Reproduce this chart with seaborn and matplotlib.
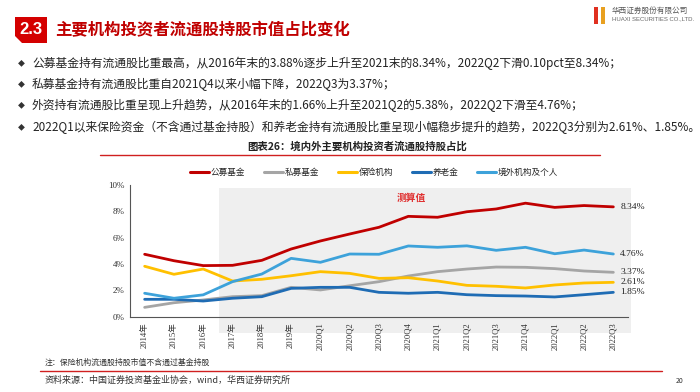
import numpy as np
import pandas as pd
import seaborn as sns
import matplotlib.pyplot as plt
from matplotlib.patches import Polygon, Rectangle
from matplotlib.lines import Line2D

# 数据
periods = ['2014年', '2015年', '2016年', '2017年', '2018年', '2019年',
           '2020Q1', '2020Q2', '2020Q3', '2020Q4', '2021Q1', '2021Q2',
           '2021Q3', '2021Q4', '2022Q1', '2022Q2', '2022Q3']
public_fund = [4.74, 4.25, 3.88, 3.90, 4.28, 5.14, 5.75, 6.28, 6.79, 7.62,
               7.55, 7.97, 8.18, 8.62, 8.30, 8.44, 8.34]
private_fund = [0.71, 1.06, 1.27, 1.52, 1.60, 2.23, 2.03, 2.35, 2.66, 3.09,
                3.42, 3.62, 3.77, 3.75, 3.65, 3.47, 3.37]
insurance = [3.83, 3.22, 3.62, 2.71, 2.84, 3.11, 3.42, 3.29, 2.91, 2.96,
             2.71, 2.38, 2.31, 2.18, 2.41, 2.56, 2.61]
pension = [1.32, 1.32, 1.19, 1.40, 1.52, 2.15, 2.23, 2.23, 1.85, 1.78,
           1.85, 1.67, 1.60, 1.57, 1.50, 1.67, 1.85]
foreign = [1.78, 1.40, 1.66, 2.66, 3.24, 4.43, 4.13, 4.76, 4.74, 5.37,
           5.27, 5.38, 5.04, 5.27, 4.78, 5.06, 4.76]

series_names = ['公募基金', '私募基金', '保险机构', '养老金', '境外机构及个人']
series_values = [public_fund, private_fund, insurance, pension, foreign]
colors = ['#C00000', '#A5A5A5', '#FFC000', '#1F6CB4', '#3DA2DA']
end_labels = ['8.34%', '3.37%', '2.61%', '1.85%', '4.76%']

df = pd.DataFrame({
    'pos': np.tile(np.arange(len(periods)), len(series_names)),
    'value': np.concatenate(series_values),
    'series': np.repeat(series_names, len(periods)),
})

sns.set_theme(style='white')
cjk = ['Noto Sans CJK SC', 'DejaVu Sans']
serif = ['Liberation Serif', 'Noto Sans CJK SC']
plt.rcParams['font.family'] = cjk

fig = plt.figure(figsize=(7, 3.92), dpi=100)
W, H = 700, 392


def fx(x):
    return x / W


def fy(y):
    return 1 - y / H


# 页眉
fig.patches.append(Polygon([(fx(15), fy(17)), (fx(47), fy(17)), (fx(47), fy(43)),
                            (fx(22), fy(43)), (fx(15), fy(36))],
                           closed=True, transform=fig.transFigure,
                           facecolor='#D40000', edgecolor='none'))
fig.text(fx(31), fy(29.5), '2.3', color='white', fontsize=12, fontweight='bold',
         ha='center', va='center', family=['Liberation Sans'])
fig.text(fx(55), fy(30.5), '主要机构投资者流通股持股市值占比变化', color='#C00000',
         fontsize=11.8, fontweight='bold', ha='left', va='center')

# logo
fig.patches.append(Rectangle((fx(594), fy(24)), fx(4), 17 / H, transform=fig.transFigure,
                             facecolor='#E03020', edgecolor='none'))
fig.patches.append(Rectangle((fx(601), fy(24)), fx(4), 17 / H, transform=fig.transFigure,
                             facecolor='#E8A020', edgecolor='none'))
fig.text(fx(612), fy(11), '华西证券股份有限公司', fontsize=5.5, color='#555555',
         ha='left', va='center', family=['Noto Sans CJK SC'])
fig.text(fx(612), fy(19), 'HUAXI SECURITIES CO.,LTD.', fontsize=4.3, color='#666666',
         ha='left', va='center', family=['Liberation Sans'])

bullets = [
    '公募基金持有流通股比重最高，从2016年末的3.88%逐步上升至2021末的8.34%，2022Q2下滑0.10pct至8.34%；',
    '私募基金持有流通股比重自2021Q4以来小幅下降，2022Q3为3.37%；',
    '外资持有流通股比重呈现上升趋势，从2016年末的1.66%上升至2021Q2的5.38%，2022Q2下滑至4.76%；',
    '2022Q1以来保险资金（不含通过基金持股）和养老金持有流通股比重呈现小幅稳步提升的趋势，2022Q3分别为2.61%、1.85%。',
]
for i, txt in enumerate(bullets):
    yy = 63 + i * 21.3
    fig.text(fx(21.5), fy(yy), '◆', fontsize=5, color='#333333', ha='center', va='center')
    fig.text(fx(32), fy(yy), txt, fontsize=8.5, color='#222222', ha='left', va='center')

fig.text(fx(357), fy(146), '图表26：境内外主要机构投资者流通股持股占比', fontsize=7.5,
         fontweight='bold', color='#222222', ha='center', va='center')
fig.add_artist(Line2D([fx(100), fx(600)], [fy(155), fy(155)], color='#D02020', lw=1.0))

# 图表
ax = fig.add_axes([fx(130), fy(316.7), fx(628 - 130), (316.7 - 185) / H])
ax.add_patch(Rectangle((2.55, -1.25), 14.05, 11.05, facecolor='#EFEFEF',
                       edgecolor='none', clip_on=False, zorder=0))
sns.lineplot(data=df, x='pos', y='value', hue='series', hue_order=series_names,
             palette=colors, linewidth=2.0, ax=ax, zorder=3)

ax.set_xlim(-0.5, len(periods) - 0.5)
ax.set_ylim(0, 10)
ax.set_facecolor('none')
ax.set_xlabel('')
ax.set_ylabel('')
ax.set_yticks(np.arange(0, 11, 2))
ax.set_yticklabels([f'{v}%' for v in range(0, 11, 2)], family=serif, fontsize=6.5,
                   color='#333333')
ax.set_xticks(np.arange(len(periods)))
ax.set_xticklabels(periods, rotation=90, family=serif, fontsize=6.2, color='#333333')
ax.set_xticks(np.arange(-0.5, len(periods)), minor=True)
ax.tick_params(axis='x', which='major', length=0, pad=4)
ax.tick_params(axis='x', which='minor', direction='in', length=3, color='#555555', width=0.8)
ax.tick_params(axis='y', direction='out', length=2, color='#555555', width=0.8, pad=2)
for side in ['top', 'right']:
    ax.spines[side].set_visible(False)
for side in ['left', 'bottom']:
    ax.spines[side].set_color('#555555')
    ax.spines[side].set_linewidth(0.8)

# 末端标签
for vals, lab in zip(series_values, end_labels):
    ax.annotate(lab, xy=(len(periods) - 1, vals[-1]), xytext=(5, 0),
                textcoords='offset points', ha='left', va='center',
                fontsize=6.8, family=serif, color='#222222')

ax.text(9.1, 9.0, '测算值', color='#E03030', fontsize=7, fontweight='bold',
        ha='center', va='center')

leg = ax.legend(loc='lower center', bbox_to_anchor=(0.49, 1.0), ncol=5, frameon=False,
                fontsize=6.2, handlelength=2.2, handletextpad=0.2, columnspacing=2.2)
for h in leg.legend_handles:
    h.set_linewidth(2.2)

# 注释与来源
fig.text(fx(45), fy(362), '注：保险机构流通股持股市值不含通过基金持股', fontsize=5.7,
         style='italic', color='#333333', ha='left', va='center')
fig.add_artist(Line2D([fx(40), fx(662)], [fy(371), fy(371)], color='#D02020', lw=1.0))
fig.text(fx(45), fy(380), '资料来源：中国证券投资基金业协会，wind，华西证券研究所', fontsize=6.5,
         style='italic', color='#333333', ha='left', va='center')
fig.text(fx(680), fy(381), '20', fontsize=5, color='#333333', ha='center', va='center')

fig.savefig('out.png', dpi=100)
